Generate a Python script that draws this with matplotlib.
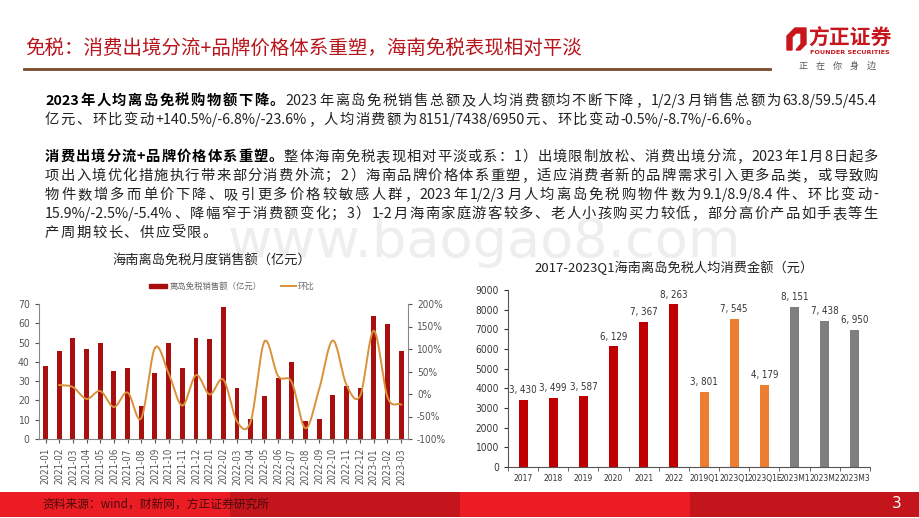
import numpy as np
import matplotlib
matplotlib.use('Agg')
import matplotlib.pyplot as plt
from matplotlib.patches import Rectangle, Polygon
from matplotlib import font_manager
from matplotlib.font_manager import FontProperties

plt.rcParams['font.family'] = ['Noto Sans CJK SC', 'DejaVu Sans']
plt.rcParams['axes.unicode_minus'] = False

# monthly sales (left chart)
months = ['2021-01', '2021-02', '2021-03', '2021-04', '2021-05', '2021-06', '2021-07',
          '2021-08', '2021-09', '2021-10', '2021-11', '2021-12', '2022-01', '2022-02',
          '2022-03', '2022-04', '2022-05', '2022-06', '2022-07', '2022-08', '2022-09',
          '2022-10', '2022-11', '2022-12', '2023-01', '2023-02', '2023-03']
sales = [37.9, 45.5, 52.5, 46.7, 49.8, 35.4, 36.6, 16.9, 34.2, 49.8, 37.0, 52.5, 52.0, 68.6,
         26.6, 10.4, 22.5, 31.5, 39.8, 9.5, 10.5, 23.0, 27.7, 26.6, 63.8, 59.5, 45.4]
mom = [np.nan, 20.0, 15.4, -11.0, 6.6, -28.9, 3.4, -53.8, 102.4, 45.6, -25.7, 41.9, -1.0, 31.9,
       -61.2, -60.9, 116.3, 40.0, 26.3, -76.1, 10.5, 119.0, 20.4, -4.0, 140.5, -6.8, -23.6]

# per-capita spending (right chart)
periods = ['2017', '2018', '2019', '2020', '2021', '2022', '2019Q1', '2023Q1', '2023Q1E',
           '2023M1', '2023M2', '2023M3']
spend = [3430, 3499, 3587, 6129, 7367, 8263, 3801, 7545, 4179, 8151, 7438, 6950]
spend_colors = ['#C00000'] * 6 + ['#ED7D31'] * 3 + ['#7F7F7F'] * 3

W, H = 920, 518
fig = plt.figure(figsize=(W / 100, H / 100), dpi=100)
renderer = fig.canvas.get_renderer()

# look for a condensed latin face for the crowded number labels
cond_file = None
for fam in ['Liberation Sans Narrow', 'DejaVu Sans', 'Roboto', 'Open Sans', 'Noto Sans']:
    for f in font_manager.fontManager.ttflist:
        low = f.fname.lower()
        if f.name == fam and ('condensed' in low or 'narrow' in low) and f.style == 'normal' \
                and 'bold' not in low and 'light' not in low and 'italic' not in low:
            cond_file = f.fname
            break
    if cond_file:
        break


def num_fp(size):
    if cond_file:
        return FontProperties(fname=cond_file, size=size)
    return FontProperties(family=['Liberation Sans', 'DejaVu Sans'], size=size * 0.88)


def box(x0, y0, x1, y1):
    # pixel box (top-left origin) -> figure fraction rect
    return [x0 / W, 1 - y1 / H, (x1 - x0) / W, (y1 - y0) / H]


def fx(x):
    return x / W


def fy(y):
    return 1 - y / H


def smooth(xs, ys, n=20):
    # catmull-rom curve through the points, only for drawing
    xs = np.asarray(xs, float)
    ys = np.asarray(ys, float)
    px = np.concatenate([[2 * xs[0] - xs[1]], xs, [2 * xs[-1] - xs[-2]]])
    py = np.concatenate([[2 * ys[0] - ys[1]], ys, [2 * ys[-1] - ys[-2]]])
    ox, oy = [], []
    t = np.linspace(0, 1, n)
    for i in range(1, len(px) - 2):
        for p, o in ((px, ox), (py, oy)):
            p0, p1, p2, p3 = p[i - 1], p[i], p[i + 1], p[i + 2]
            o.extend(0.5 * ((2 * p1) + (-p0 + p2) * t + (2 * p0 - 5 * p1 + 4 * p2 - p3) * t ** 2
                            + (-p0 + 3 * p1 - 3 * p2 + p3) * t ** 3))
    return np.array(ox), np.array(oy)


def tokens(s):
    out, buf = [], ''
    for ch in s:
        if ord(ch) < 128:
            buf += ch
        else:
            if buf:
                out.append(buf)
                buf = ''
            out.append(ch)
    if buf:
        out.append(buf)
    return out


def text_line(y, parts, left=45, right=None, gap=None, fs=10.3):
    # justified line of body text, parts = [(text, weight, color)]
    items = []
    for s, wt, col in parts:
        for tk in tokens(s):
            t = fig.text(0, fy(y), tk, fontsize=fs, fontweight=wt, color=col,
                         ha='left', va='center')
            items.append((t, t.get_window_extent(renderer).width))
    total = sum(w for _, w in items)
    if right is not None:
        gap = (right - left - total) / (len(items) - 1)
    x = left
    for t, w in items:
        t.set_x(fx(x))
        x += w + gap
    return gap


# watermark
fig.text(fx(484), fy(242), 'www.baogao8.com', fontsize=39, color='#EEEEEE',
         family='DejaVu Sans', ha='center', va='center', zorder=0)

# header
fig.text(fx(25), fy(48), '免税：消费出境分流+品牌价格体系重塑，海南免税表现相对平淡',
         fontsize=14, color='#B8141B', ha='left', va='center')
fig.add_artist(plt.Line2D([fx(24), fx(770)], [fy(69), fy(69)], color='#7A4A2C', lw=2))

# logo
fig.add_artist(Polygon([[fx(787), fy(50)], [fx(787), fy(36)], [fx(795), fy(28)], [fx(806), fy(28)],
                        [fx(806), fy(44)], [fx(800), fy(50)], [fx(796), fy(50)], [fx(801), fy(44)],
                        [fx(801), fy(33)], [fx(796), fy(33)], [fx(792), fy(37)], [fx(792), fy(50)]],
                       closed=True, color='#C8161D'))
fig.text(fx(850), fy(38), '方正证券', fontsize=15, fontweight='bold', color='#C8161D',
         ha='center', va='center')
fig.text(fx(850), fy(52), 'FOUNDER SECURITIES', fontsize=4.6, fontweight='bold', color='#C8161D',
         ha='center', va='center', family='DejaVu Sans')
fig.text(fx(838), fy(66), '正    在    你    身    边', fontsize=6.5, color='#555555',
         ha='center', va='center')

# body text
B, N = ('bold', 'black'), ('normal', '#222222')
g1 = text_line(101, [('2023年人均离岛免税购物额下降。',) + B,
                     ('2023年离岛免税销售总额及人均消费额均不断下降，1/2/3月销售总额为63.8/59.5/45.4',) + N],
               right=876)
g2 = text_line(157, [('消费出境分流+品牌价格体系重塑。',) + B,
                     ('整体海南免税表现相对平淡或系：1）出境限制放松、消费出境分流，2023年1月8日起多',) + N],
               right=878)
g3 = text_line(176, [('项出入境优化措施执行带来部分消费外流；2）海南品牌价格体系重塑，适应消费者新的品牌需求引入更多品类，或导致购',) + N],
               right=878)
g4 = text_line(195, [('物件数增多而单价下降、吸引更多价格较敏感人群，2023年1/2/3月人均离岛免税购物件数为9.1/8.9/8.4件、环比变动-',) + N],
               right=878)
g5 = text_line(214, [('15.9%/-2.5%/-5.4%、降幅窄于消费额变化；3）1-2月海南家庭游客较多、老人小孩购买力较低，部分高价产品如手表等生',) + N],
               right=878)
gap = np.mean([g1, g2, g3, g4, g5])
text_line(120, [('亿元、环比变动+140.5%/-6.8%/-23.6%，人均消费额为8151/7438/6950元、环比变动-0.5%/-8.7%/-6.6%。',) + N],
          gap=gap)
text_line(233, [('产周期较长、供应受限。',) + N], gap=gap)

# left chart
ax1 = fig.add_axes(box(38.7, 304, 408, 439))
ax1.patch.set_alpha(0)
x = np.arange(len(months))
ax1.bar(x, sales, width=0.36, color='#A80F0F', zorder=2)
ax1.set_xlim(-0.5, len(months) - 0.5)
ax1.set_ylim(0, 70)
ax1.set_yticks(range(0, 71, 10))
ax1.set_xticks(x)
ax1.set_xticklabels(months, rotation=90, color='#555555')
for lab in ax1.get_xticklabels():
    lab.set_fontproperties(num_fp(7))
ax1.tick_params(axis='y', colors='#555555', length=3)
ax1.tick_params(axis='x', length=3, colors='#555555')
for lab in ax1.get_yticklabels():
    lab.set_fontproperties(num_fp(7.5))
for s in ['top', 'right']:
    ax1.spines[s].set_visible(False)
for s in ['left', 'bottom']:
    ax1.spines[s].set_color('#888888')

ax2 = ax1.twinx()
ax2.set_ylim(-100, 200)
ax2.set_yticks(range(-100, 201, 50))
ax2.set_yticklabels([f'{v}%' for v in range(-100, 201, 50)], color='#555555')
for lab in ax2.get_yticklabels():
    lab.set_fontproperties(num_fp(7.2))
ax2.tick_params(axis='y', length=3, colors='#555555')
for s in ['top', 'left', 'bottom']:
    ax2.spines[s].set_visible(False)
ax2.spines['right'].set_color('#888888')
sx, sy = smooth(x[1:], mom[1:])
ax2.plot(sx, sy, color='#D9913A', lw=1.4, zorder=3)

fig.text(fx(212), fy(261), '海南离岛免税月度销售额（亿元）', fontsize=9.5, color='#222222',
         ha='center', va='center')
fig.add_artist(Rectangle((fx(149), fy(288)), 18 / W, 4 / H, color='#A80F0F'))
fig.text(fx(170), fy(286), '离岛免税销售额（亿元）', fontsize=6, color='#666666', ha='left', va='center')
fig.add_artist(plt.Line2D([fx(281), fx(296)], [fy(286), fy(286)], color='#D9913A', lw=1.4))
fig.text(fx(298), fy(286), '环比', fontsize=6, color='#666666', ha='left', va='center')

# right chart
ax3 = fig.add_axes(box(508, 290, 870, 467))
ax3.patch.set_alpha(0)
xr = np.arange(len(periods))
ax3.bar(xr, spend, width=0.3, color=spend_colors, zorder=2)
for xi, v in zip(xr, spend):
    ax3.text(xi, v + 250, f'{v:,}'.replace(',', ', '), ha='center', va='bottom',
             color='#333333', fontproperties=num_fp(7))
ax3.set_xlim(-0.5, len(periods) - 0.5)
ax3.set_ylim(0, 9000)
ax3.set_yticks(range(0, 9001, 1000))
ax3.set_xticks(xr)
ax3.set_xticklabels(periods, color='#333333')
for lab in ax3.get_xticklabels():
    lab.set_fontproperties(num_fp(6.1))
ax3.set_xticks(np.arange(-0.5, len(periods), 1), minor=True)
ax3.tick_params(axis='x', which='major', length=0, pad=5)
ax3.tick_params(axis='x', which='minor', length=3, colors='#555555')
ax3.tick_params(axis='y', colors='#333333', length=3)
for lab in ax3.get_yticklabels():
    lab.set_fontproperties(num_fp(7.3))
for s in ['top', 'right']:
    ax3.spines[s].set_visible(False)
for s in ['left', 'bottom']:
    ax3.spines[s].set_color('#555555')
fig.text(fx(674), fy(268), '2017-2023Q1海南离岛免税人均消费金额（元）', fontsize=9.5,
         color='#222222', ha='center', va='center')

# footer
for i, c in enumerate(['#EC1C24', '#C4151C', '#EC1C24', '#C4151C']):
    fig.add_artist(Rectangle((fx(i * 230), fy(517)), 230 / W, 25 / H, color=c, lw=0))
fig.text(fx(42), fy(504), '资料来源：wind，财新网，方正证券研究所', fontsize=8.5, color='#4A0A0A',
         ha='left', va='center')
fig.text(fx(897), fy(504), '3', fontsize=11, color='white', ha='center', va='center',
         family='DejaVu Sans')

fig.savefig('out.png', dpi=100)
